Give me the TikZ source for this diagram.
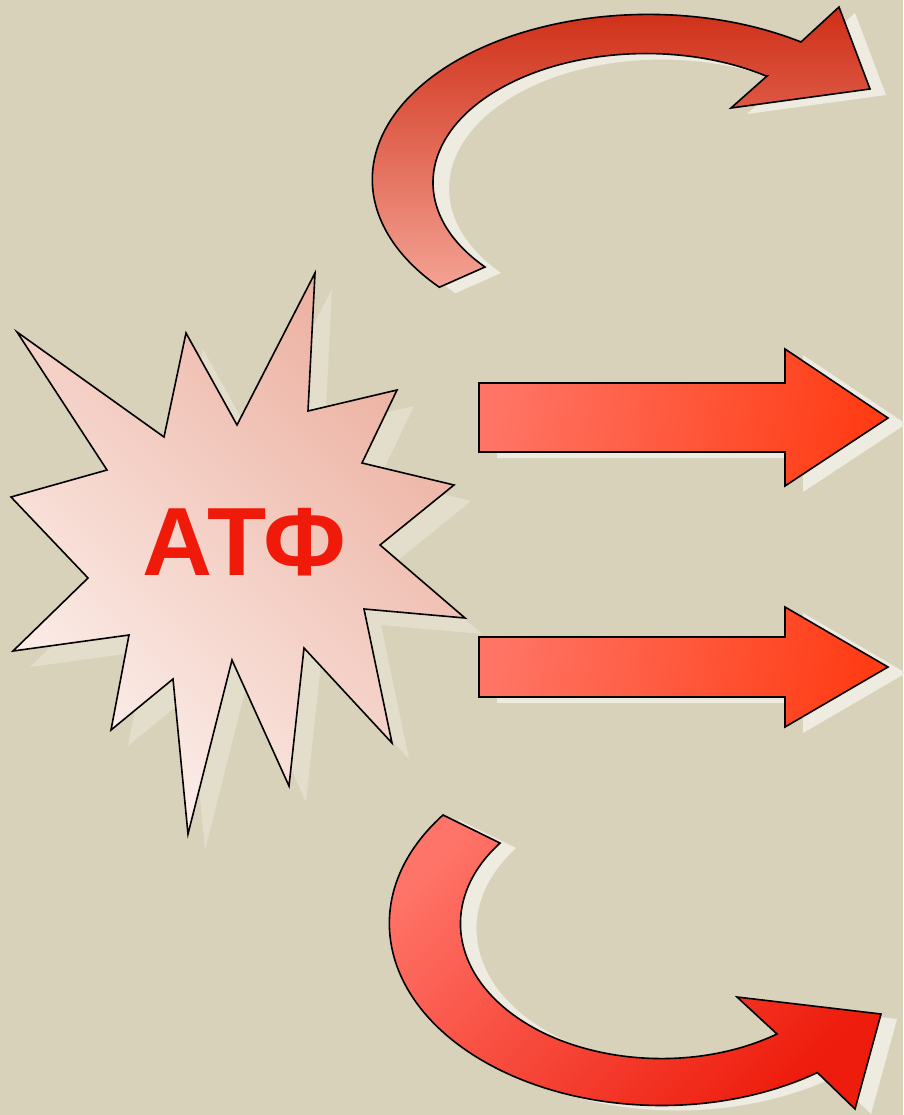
\documentclass[tikz,border=0pt]{standalone}
\usepackage{fontspec}
\newfontfamily\atffont{Liberation Sans}

\definecolor{bg}{HTML}{D8D2BA}
\definecolor{ghostcol}{HTML}{EEECE1}
\definecolor{starghostcol}{HTML}{E2DECB}
\definecolor{topdark}{HTML}{CD2810}
\definecolor{toplight}{HTML}{F4A294}
\definecolor{flatlight}{HTML}{FF7464}
\definecolor{flatdark}{HTML}{FF3C14}
\definecolor{botlight}{HTML}{FF7468}
\definecolor{botdark}{HTML}{EE1C0C}
\definecolor{starlight}{HTML}{FCF0EC}
\definecolor{stardark}{HTML}{ECB0A0}
\definecolor{atfred}{HTML}{F01A0A}

\newcommand\burstpath{(17,332) -- (164,437) -- (186,333) -- (237,425) -- (315,273) -- (308,411)
  -- (397,390) -- (362,463) -- (454,485) -- (380,545) -- (465,618) -- (364,609)
  -- (392,743) -- (304,648) -- (289,786) -- (232,660) -- (188,834) -- (173,679)
  -- (111,730) -- (129,635) -- (13,651) -- (88,578) -- (11,497) -- (107,470) -- cycle}
\newcommand\toparrowpath{(767,76) -- (731,108) -- (870,89) -- (839,7) -- (801,42)
  arc[start angle=-56.4,end angle=-220.8,x radius=276,y radius=165]
  -- (485,267) arc[start angle=139.1,end angle=304.3,x radius=213,y radius=129] -- cycle}
\newcommand\botarrowpath{(443,815) arc[start angle=216.6,end angle=55,x radius=272,y radius=182]
  -- (855,1109) -- (881,1014) -- (737,997) -- (777,1034)
  arc[start angle=54.9,end angle=216.6,x radius=201,y radius=135] -- cycle}

\begin{document}
\begin{tikzpicture}[x=1pt,y=-1pt,line width=1.6pt,line join=miter,
    ghost/.style={fill=ghostcol},
    starghost/.style={fill=starghostcol},
    outline/.style={draw=black},
    flatarrow/.style={outline,left color=flatlight,right color=flatdark,shading angle=80}]
    \fill[bg] (0,0) rectangle (903,1115);
    \useasboundingbox (0,0) rectangle (903,1115);

    \fill[starghost,shift={(17,16)}] \burstpath;
    \fill[ghost,shift={(16,6)}] \toparrowpath;
    \fill[ghost,shift={(16,5)}] \botarrowpath;
    \fill[ghost,shift={(18,6)}] (479,383) -- (785,383) -- (785,349) -- (888,418) -- (785,486) -- (785,452) -- (479,452) -- cycle;
    \fill[ghost,shift={(18,6)}] (479,637) -- (785,637) -- (785,607) -- (888,667) -- (785,727) -- (785,697) -- (479,697) -- cycle;

    \draw[outline,top color=stardark,bottom color=starlight,shading angle=-45] \burstpath;
    \draw[outline,top color=topdark,bottom color=toplight] \toparrowpath;
    \draw[outline,top color=botlight,bottom color=botdark,shading angle=45] \botarrowpath;
    \draw[flatarrow] (479,383) -- (785,383) -- (785,349) -- (888,418) -- (785,486) -- (785,452) -- (479,452) -- cycle;
    \draw[flatarrow] (479,637) -- (785,637) -- (785,607) -- (888,667) -- (785,727) -- (785,697) -- (479,697) -- cycle;

    \node[anchor=base,inner sep=0pt,text=atfred,font=\atffont\bfseries\fontsize{97}{97}\selectfont] (atf) at (244,575) {АТФ};
\end{tikzpicture}
\end{document}
